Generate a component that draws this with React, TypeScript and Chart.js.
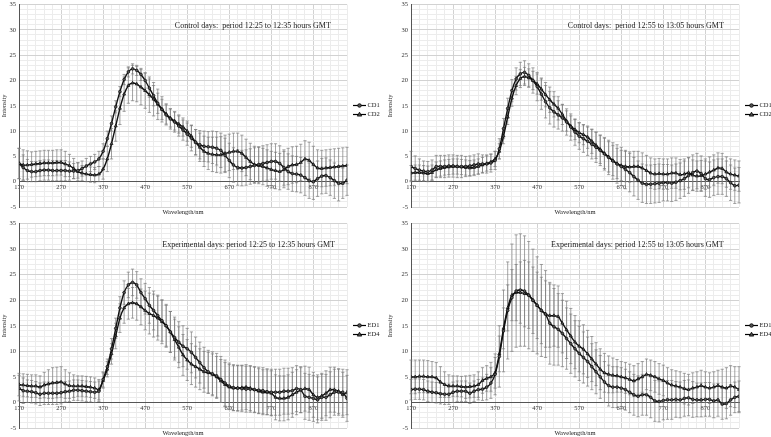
import React, { useEffect, useRef } from 'react';
import { Chart, registerables } from 'chart.js';

Chart.register(...registerables);

const FONT = '"Liberation Serif", "Times New Roman", serif';

// Wavelength categories (nm)
const WAVELENGTHS = [
  170, 180, 190, 200, 210, 220, 230, 240, 250, 260,
  270, 280, 290, 300, 310, 320, 330, 340, 350, 360,
  370, 380, 390, 400, 410, 420, 430, 440, 450, 460,
  470, 480, 490, 500, 510, 520, 530, 540, 550, 560,
  570, 580, 590, 600, 610, 620, 630, 640, 650, 660,
  670, 680, 690, 700, 710, 720, 730, 740, 750, 760,
  770, 780, 790, 800, 810, 820, 830, 840, 850, 860,
  870, 880, 890, 900, 910, 920, 930, 940, 950,
];
const X_TICK_LABELS = [170, 270, 370, 470, 570, 670, 770, 870];
const Y_TICK_LABELS = [-5, 0, 5, 10, 15, 20, 25, 30, 35];

// Panel 1: Control days 12:25-12:35
const P1_CD1 = [
  3.6, 2.8, 2.2, 2.0, 2.0, 2.2, 2.3, 2.3, 2.2, 2.2,
  2.2, 2.2, 2.1, 2.1, 2.2, 2.6, 3.1, 3.5, 3.9, 4.5,
  6.0, 8.5, 11.5, 14.8, 17.8, 20.2, 21.7, 22.3, 22.0, 21.2,
  20.0, 18.5, 17.0, 15.5, 14.3, 13.2, 12.4, 11.8, 11.0, 10.2,
  9.4, 8.6, 7.8, 7.3, 7.0, 6.9, 6.8, 6.6, 6.2, 5.2,
  4.2, 3.3, 2.8, 2.7, 2.8, 3.0, 3.2, 3.4, 3.6, 3.8,
  4.0, 4.0, 3.6, 2.8, 2.0, 1.6, 1.5, 1.3, 0.8, 0.2,
  0.0, 0.6, 1.1, 1.2, 0.8, 0.2, -0.3, -0.3, 0.3,
];
const P1_CD1_ERR = [
  3.0, 2.5, 2.2, 2.0, 2.0, 2.0, 2.0, 2.0, 2.0, 2.0,
  2.0, 2.0, 1.8, 1.5, 1.5, 1.5, 1.5, 1.5, 1.5, 1.5,
  1.5, 1.5, 1.5, 1.2, 1.0, 1.0, 1.0, 1.0, 1.0, 1.2,
  1.5, 1.8, 2.0, 2.0, 2.0, 2.0, 2.0, 2.0, 2.0, 2.0,
  2.2, 2.5, 2.5, 2.8, 3.0, 3.0, 3.2, 3.3, 3.4, 3.4,
  3.4, 3.4, 3.5, 3.5, 3.5, 3.5, 3.5, 3.5, 3.5, 3.5,
  3.5, 3.5, 3.5, 3.5, 3.5, 3.5, 3.5, 3.5, 3.5, 3.5,
  3.5, 3.5, 3.5, 3.5, 3.5, 3.5, 3.5, 3.0, 3.0,
];
const P1_CD2 = [
  3.6, 3.3, 3.3, 3.4, 3.5, 3.6, 3.7, 3.7, 3.7, 3.8,
  3.8, 3.5, 3.2, 2.6, 2.0, 1.7, 1.5, 1.4, 1.3, 1.5,
  2.5, 4.5, 7.5, 11.0, 14.5, 17.3, 19.0, 19.5, 19.3, 18.7,
  18.0, 17.2, 16.3, 15.3, 14.3, 13.4, 12.6, 12.0, 11.4, 10.8,
  10.0, 9.0, 7.8, 6.8, 6.0, 5.6, 5.4, 5.3, 5.3, 5.6,
  5.8, 6.0, 6.0, 5.6, 4.8, 4.0, 3.4, 3.2, 3.0, 2.7,
  2.4, 2.2, 2.0, 2.4, 3.0, 3.3, 3.4, 3.8, 4.5, 4.2,
  3.4, 2.7, 2.6, 2.7, 2.8, 2.9, 3.0, 3.1, 3.2,
];
const P1_CD2_ERR = [
  3.0, 3.0, 2.8, 2.5, 2.5, 2.5, 2.5, 2.5, 2.5, 2.5,
  2.5, 2.5, 2.2, 2.0, 1.8, 1.5, 1.5, 1.5, 1.5, 1.5,
  2.0, 2.5, 3.0, 3.0, 3.2, 3.4, 3.5, 3.5, 3.5, 3.5,
  3.5, 3.5, 3.3, 3.0, 2.5, 2.0, 1.8, 1.8, 1.8, 1.8,
  2.0, 2.2, 2.5, 2.8, 3.0, 3.2, 3.4, 3.5, 3.6, 3.6,
  3.6, 3.6, 3.6, 3.6, 3.6, 3.6, 3.6, 3.6, 3.6, 3.6,
  3.6, 3.6, 3.6, 3.6, 3.6, 3.6, 3.6, 3.6, 3.6, 3.6,
  3.6, 3.6, 3.6, 3.6, 3.6, 3.6, 3.6, 3.6, 3.6,
];

// Panel 2: Control days 12:55-13:05
const P2_CD1 = [
  3.0, 2.6, 2.3, 2.1, 2.0, 2.3, 3.0, 3.0, 3.0, 3.1,
  3.1, 3.0, 3.0, 3.0, 3.1, 3.3, 3.5, 3.5, 3.5, 3.7,
  4.2, 6.5, 10.5, 14.5, 18.0, 20.3, 21.3, 21.6, 21.0, 20.0,
  18.8, 17.3, 15.8, 14.6, 13.8, 13.2, 12.6, 11.8, 10.8, 9.8,
  9.0, 8.5, 8.0, 7.4, 6.8, 6.2, 5.5, 4.8, 4.1, 3.5,
  3.0, 2.4, 1.8, 1.0, 0.3, -0.3, -0.5, -0.5, -0.4, -0.3,
  -0.2, -0.2, -0.3, -0.1, 0.2, 0.6, 1.2, 1.8, 2.1, 1.6,
  0.6, 0.4, 0.8, 1.0, 1.0, 0.6, -0.2, -0.8, -0.7,
];
const P2_CD1_ERR = [
  3.0, 2.5, 2.2, 2.0, 2.0, 2.0, 2.2, 2.2, 2.2, 2.2,
  2.2, 2.2, 2.2, 2.0, 2.0, 2.0, 2.0, 1.8, 1.8, 1.8,
  1.8, 2.0, 2.0, 2.0, 2.2, 2.2, 2.3, 2.3, 2.3, 2.5,
  2.8, 3.0, 3.2, 3.2, 3.0, 2.8, 2.6, 2.6, 2.6, 2.6,
  2.6, 2.7, 2.8, 2.9, 3.0, 3.0, 3.2, 3.4, 3.6, 3.8,
  3.8, 3.8, 3.8, 3.8, 3.8, 3.8, 3.8, 3.8, 3.8, 3.8,
  3.6, 3.6, 3.6, 3.6, 3.5, 3.5, 3.5, 3.5, 3.5, 3.5,
  3.5, 3.5, 3.5, 3.5, 3.5, 3.5, 3.5, 3.5, 3.5,
];
const P2_CD2 = [
  1.7, 1.8, 1.8, 1.7, 1.6, 1.8, 2.4, 2.6, 2.8, 2.9,
  3.0, 3.0, 2.9, 2.8, 2.7, 2.8, 3.0, 3.3, 3.6, 3.9,
  4.5, 6.0, 9.0, 12.8, 16.5, 19.0, 20.4, 20.8, 20.5, 20.0,
  19.3, 18.3, 17.2, 16.2, 15.3, 14.5, 13.3, 12.0, 11.0, 10.3,
  9.7, 9.3, 8.8, 8.0, 7.2, 6.4, 5.6, 4.9, 4.2, 3.6,
  3.2, 3.0, 2.9, 3.0, 3.0, 2.7, 2.2, 1.7, 1.5, 1.6,
  1.5, 1.5, 1.7, 1.7, 1.4, 1.5, 1.8, 1.3, 1.1, 1.2,
  1.5, 1.9, 2.3, 2.7, 2.6, 1.9, 1.5, 1.3, 1.1,
];
const P2_CD2_ERR = [
  1.5, 1.5, 1.5, 1.5, 1.5, 1.5, 1.5, 1.5, 1.5, 1.5,
  1.5, 1.5, 1.5, 1.5, 1.5, 1.5, 1.5, 1.5, 1.5, 1.5,
  1.5, 1.5, 1.5, 1.5, 1.6, 1.8, 1.8, 1.8, 1.8, 1.8,
  2.0, 2.2, 2.4, 2.5, 2.5, 2.3, 2.0, 2.0, 2.0, 2.0,
  2.0, 2.0, 2.2, 2.4, 2.6, 2.8, 3.0, 3.0, 3.0, 3.0,
  3.0, 3.0, 3.0, 3.0, 3.0, 3.0, 3.0, 3.0, 3.0, 3.0,
  3.0, 3.0, 3.0, 3.0, 3.0, 3.0, 3.0, 3.0, 3.0, 3.0,
  3.0, 3.0, 3.0, 3.0, 3.0, 3.0, 3.0, 3.0, 3.0,
];

// Panel 3: Experimental days 12:25-12:35
const P3_ED1 = [
  2.8, 2.3, 2.2, 2.1, 1.9, 1.6, 1.8, 1.8, 1.8, 1.8,
  1.9, 2.1, 2.2, 2.4, 2.4, 2.3, 2.2, 2.1, 2.0, 2.2,
  4.5, 7.0, 10.5, 14.5, 18.5, 21.5, 23.0, 23.5, 23.0, 21.5,
  20.3, 19.0, 18.0, 17.0, 16.0, 15.0, 13.8, 12.7, 11.8, 11.0,
  10.5, 9.8, 8.8, 7.8, 6.8, 6.0, 5.6, 5.2, 4.5, 3.8,
  3.2, 2.9, 2.8, 2.7, 2.6, 2.6, 2.5, 2.4, 2.3, 2.1,
  2.0, 2.0, 2.0, 2.2, 2.2, 2.3, 2.7, 2.5, 1.2, 1.0,
  0.8, 0.5, 1.0, 1.0, 1.5, 2.0, 2.0, 2.0, 0.8,
];
const P3_ED1_ERR = [
  2.5, 2.5, 2.2, 2.2, 2.2, 2.2, 2.2, 2.2, 2.2, 2.2,
  2.2, 2.0, 2.0, 2.0, 2.0, 2.0, 2.0, 2.0, 2.0, 2.0,
  1.5, 1.5, 2.0, 2.0, 2.2, 2.3, 2.5, 2.6, 2.6, 2.7,
  3.0, 3.5, 3.8, 4.0, 4.0, 4.0, 4.0, 4.0, 4.0, 4.0,
  4.0, 4.0, 4.0, 4.0, 4.0, 4.2, 4.3, 4.4, 4.5, 4.5,
  4.5, 4.5, 4.5, 4.5, 4.5, 4.5, 4.5, 4.5, 4.5, 4.5,
  4.5, 4.5, 4.5, 4.5, 4.5, 4.5, 4.5, 4.5, 4.5, 4.5,
  4.5, 4.5, 4.5, 4.5, 4.5, 4.5, 4.5, 4.5, 4.5,
];
const P3_ED4 = [
  3.5, 3.4, 3.3, 3.2, 3.2, 3.0, 3.4, 3.6, 3.8, 3.9,
  4.0, 3.6, 3.3, 3.2, 3.2, 3.2, 3.1, 3.0, 2.8, 2.5,
  4.3, 6.5, 9.5, 13.0, 16.5, 18.5, 19.3, 19.5, 19.3, 18.7,
  18.0, 17.4, 17.0, 16.5, 15.8, 15.0, 13.8, 12.3, 10.8, 9.3,
  8.3, 7.5, 7.0, 6.5, 6.0, 5.8, 5.5, 5.0, 4.2, 3.5,
  3.0, 2.8, 2.8, 2.9, 3.0, 2.8, 2.5, 2.2, 2.0, 2.0,
  1.8, 1.0, 0.8, 0.8, 1.0, 1.5, 2.0, 2.4, 2.7, 2.5,
  1.5, 1.0, 1.3, 1.8, 2.5, 2.5, 2.2, 1.5, 2.0,
];
const P3_ED4_ERR = [
  2.2, 2.2, 2.2, 2.2, 2.2, 2.2, 2.5, 2.8, 3.0, 3.0,
  3.0, 2.8, 2.5, 2.2, 2.0, 2.0, 2.0, 2.0, 2.0, 2.0,
  1.5, 1.5, 2.0, 2.5, 2.8, 3.0, 3.0, 3.0, 3.2, 3.5,
  3.8, 4.0, 4.2, 4.3, 4.3, 4.2, 4.0, 4.0, 4.0, 4.0,
  4.0, 4.0, 4.0, 4.0, 4.0, 4.0, 4.0, 4.0, 4.2, 4.3,
  4.4, 4.4, 4.4, 4.4, 4.4, 4.4, 4.4, 4.4, 4.4, 4.4,
  4.4, 4.4, 4.4, 4.4, 4.4, 4.4, 4.4, 4.4, 4.4, 4.4,
  4.4, 4.4, 4.4, 4.4, 4.4, 4.4, 4.4, 4.4, 4.4,
];

// Panel 4: Experimental days 12:55-13:05
const P4_ED1 = [
  2.5, 2.6, 2.6, 2.5, 2.2, 2.0, 1.9, 1.7, 1.6, 1.6,
  2.0, 2.2, 2.2, 2.2, 1.8, 2.2, 2.5, 2.6, 3.0, 3.8,
  5.5, 9.0, 14.0, 18.0, 20.5, 21.8, 22.0, 21.8, 21.0, 20.0,
  19.0, 18.0, 17.3, 15.5, 14.8, 14.3, 13.5, 12.5, 11.5, 10.5,
  9.6, 8.8, 8.0, 7.0, 6.0, 5.0, 4.0, 3.3, 3.0, 3.0,
  2.8, 2.5, 2.0, 1.5, 1.2, 1.5, 1.5, 1.0, 0.3, 0.2,
  0.4, 0.5, 0.5, 0.6, 0.5, 0.8, 0.9, 0.6, 0.5, 0.5,
  0.6, 0.6, 0.3, 0.5, -0.3, -0.2, 0.5, 1.0, 1.2,
];
const P4_ED1_ERR = [
  2.0, 2.0, 2.0, 2.0, 2.0, 2.0, 2.0, 2.0, 2.0, 2.0,
  2.0, 2.0, 2.0, 2.0, 2.0, 2.0, 2.0, 2.2, 2.5, 3.0,
  4.0, 6.0, 8.0, 9.5, 10.5, 11.0, 11.0, 10.8, 10.5, 10.0,
  9.5, 9.0, 8.5, 8.0, 7.5, 7.0, 6.5, 6.0, 5.8, 5.5,
  5.3, 5.0, 4.8, 4.5, 4.3, 4.2, 4.0, 4.0, 4.0, 4.0,
  4.0, 4.0, 4.0, 4.0, 4.0, 4.0, 4.0, 4.0, 4.0, 4.0,
  3.8, 3.8, 3.8, 3.5, 3.5, 3.5, 3.5, 3.5, 3.3, 3.3,
  3.3, 3.3, 3.3, 3.2, 3.0, 3.0, 3.0, 3.0, 3.0,
];
const P4_ED4 = [
  5.0, 5.0, 5.1, 5.1, 5.0, 5.0, 4.8, 4.0, 3.5, 3.2,
  3.2, 3.2, 3.1, 3.0, 3.1, 3.2, 3.5, 4.3, 4.7, 5.0,
  5.8, 9.5, 14.5, 18.5, 21.0, 21.5, 21.5, 21.3, 21.0, 20.0,
  19.0, 18.0, 17.3, 17.0, 17.0, 16.8, 15.5, 14.2, 13.0, 11.8,
  11.0, 10.4, 9.5, 8.5, 7.5, 6.5, 5.8, 5.5, 5.3, 5.2,
  5.0, 4.8, 4.5, 4.2, 4.6, 5.0, 5.5, 5.3, 5.0, 4.6,
  4.3, 3.8, 3.4, 3.2, 3.0, 2.7, 2.5, 2.8, 3.0, 3.3,
  3.0, 2.8, 3.0, 3.3, 3.0, 2.8, 3.2, 3.0, 2.5,
];
const P4_ED4_ERR = [
  3.3, 3.3, 3.2, 3.2, 3.2, 3.0, 3.0, 3.0, 2.5, 2.2,
  2.0, 2.0, 2.0, 2.2, 2.2, 2.2, 2.5, 2.5, 2.5, 2.8,
  3.0, 3.5, 4.0, 4.5, 5.0, 5.5, 6.0, 6.5, 6.5, 6.5,
  6.5, 6.5, 6.5, 6.2, 6.0, 6.0, 5.8, 5.6, 5.4, 5.2,
  5.0, 4.8, 4.6, 4.4, 4.2, 4.0, 3.8, 3.6, 3.4, 3.2,
  3.0, 3.0, 3.0, 3.0, 3.0, 3.0, 3.0, 3.0, 3.0, 3.0,
  3.0, 3.0, 3.0, 3.0, 3.0, 3.0, 3.0, 3.0, 3.0, 3.0,
  3.0, 3.0, 3.0, 3.0, 3.5, 4.0, 4.0, 4.0, 4.5,
];

const X_MIN = 170;
const X_MAX = 950;
const Y_MIN = -5;
const Y_MAX = 35;

type SeriesDef = { label: string; values: number[]; errors: number[]; marker: 'circle' | 'triangle' };
type PanelDef = {
  title: string;
  titleFrac: number;
  series: SeriesDef[];
  left: number; top: number; w: number; h: number;
  pad: { left: number; top: number; right: number; bottom: number };
  yWidth: number;
};

const PANELS: PanelDef[] = [
  {
    title: 'Control days:  period 12:25 to 12:35 hours GMT', titleFrac: 0.713,
    series: [
      { label: 'CD1', values: P1_CD1, errors: P1_CD1_ERR, marker: 'circle' },
      { label: 'CD2', values: P1_CD2, errors: P1_CD2_ERR, marker: 'triangle' },
    ],
    left: 0, top: 0, w: 388, h: 219,
    pad: { left: 0, top: 2, right: 41, bottom: 12 }, yWidth: 19,
  },
  {
    title: 'Control days:  period 12:55 to 13:05 hours GMT', titleFrac: 0.716,
    series: [
      { label: 'CD1', values: P2_CD1, errors: P2_CD1_ERR, marker: 'circle' },
      { label: 'CD2', values: P2_CD2, errors: P2_CD2_ERR, marker: 'triangle' },
    ],
    left: 386, top: 0, w: 385, h: 219,
    pad: { left: 0, top: 2, right: 32, bottom: 12 }, yWidth: 25,
  },
  {
    title: 'Experimental days: period 12:25 to 12:35 hours GMT', titleFrac: 0.70,
    series: [
      { label: 'ED1', values: P3_ED1, errors: P3_ED1_ERR, marker: 'circle' },
      { label: 'ED4', values: P3_ED4, errors: P3_ED4_ERR, marker: 'triangle' },
    ],
    left: 0, top: 219, w: 388, h: 218,
    pad: { left: 0, top: 3, right: 41, bottom: 9 }, yWidth: 19,
  },
  {
    title: 'Experimental days: period 12:55 to 13:05 hours GMT', titleFrac: 0.69,
    series: [
      { label: 'ED1', values: P4_ED1, errors: P4_ED1_ERR, marker: 'circle' },
      { label: 'ED4', values: P4_ED4, errors: P4_ED4_ERR, marker: 'triangle' },
    ],
    left: 386, top: 219, w: 385, h: 218,
    pad: { left: 0, top: 3, right: 32, bottom: 9 }, yWidth: 25,
  },
];

function drawMarker(ctx: CanvasRenderingContext2D, kind: string, x: number, y: number) {
  ctx.beginPath();
  if (kind === 'circle') {
    ctx.arc(x, y, 1.8, 0, Math.PI * 2);
  } else {
    ctx.moveTo(x, y - 2.3);
    ctx.lineTo(x + 2.2, y + 1.6);
    ctx.lineTo(x - 2.2, y + 1.6);
    ctx.closePath();
  }
  ctx.fillStyle = '#555';
  ctx.fill();
  ctx.lineWidth = 0.8;
  ctx.strokeStyle = '#000';
  ctx.stroke();
}

const errorBarPlugin = {
  id: 'errorBars',
  beforeDatasetsDraw(chart: any) {
    const { ctx, scales } = chart;
    const xs = scales.x;
    const ys = scales.y;
    ctx.save();
    ctx.strokeStyle = 'rgba(120,120,120,0.85)';
    ctx.lineWidth = 0.8;
    chart.data.datasets.forEach((ds: any) => {
      ds.data.forEach((p: any, i: number) => {
        const e = ds.errors[i];
        const px = xs.getPixelForValue(p.x);
        const t = ys.getPixelForValue(p.y + e);
        const b = ys.getPixelForValue(p.y - e);
        ctx.beginPath();
        ctx.moveTo(px, t);
        ctx.lineTo(px, b);
        ctx.moveTo(px - 1.6, t);
        ctx.lineTo(px + 1.6, t);
        ctx.moveTo(px - 1.6, b);
        ctx.lineTo(px + 1.6, b);
        ctx.stroke();
      });
    });
    ctx.restore();
  },
};

const panelTextPlugin = {
  id: 'panelText',
  afterDraw(chart: any, _args: any, opts: any) {
    const { ctx, chartArea: a } = chart;
    ctx.save();
    ctx.fillStyle = '#1a1a1a';
    ctx.textAlign = 'center';
    ctx.textBaseline = 'middle';
    ctx.font = `8px ${FONT}`;
    ctx.fillText(opts.title, a.left + opts.titleFrac * (a.right - a.left), a.top + 21);
    ctx.font = `6.5px ${FONT}`;
    ctx.fillText('Wavelength/nm', (a.left + a.right) / 2, a.bottom + 5);
    const cy = (a.top + a.bottom) / 2;
    chart.data.datasets.forEach((ds: any, i: number) => {
      const y = Math.round(cy - 1 + i * 9) + 0.5;
      const x0 = a.right + 6;
      ctx.strokeStyle = '#000';
      ctx.lineWidth = 1.2;
      ctx.beginPath();
      ctx.moveTo(x0, y);
      ctx.lineTo(x0 + 13, y);
      ctx.stroke();
      drawMarker(ctx, ds.marker, x0 + 6.5, y);
      ctx.fillStyle = '#1a1a1a';
      ctx.textAlign = 'left';
      ctx.font = `6.5px ${FONT}`;
      ctx.fillText(ds.label, x0 + 14.5, y);
    });
    ctx.restore();
  },
};

function Panel({ def }: { def: PanelDef }) {
  const ref = useRef<HTMLCanvasElement>(null);
  useEffect(() => {
    const gridX: number[] = [];
    for (let v = X_MIN; v <= X_MAX; v += 20) gridX.push(v);
    const chart = new Chart(ref.current as HTMLCanvasElement, {
      type: 'line',
      data: {
        datasets: def.series.map((s) => ({
          label: s.label,
          data: WAVELENGTHS.map((x, i) => ({ x, y: s.values[i] })),
          errors: s.errors,
          marker: s.marker,
          borderColor: '#111',
          borderWidth: 1.4,
          tension: 0.2,
          pointStyle: s.marker,
          pointRadius: s.marker === 'circle' ? 1.4 : 1.8,
          pointBackgroundColor: '#555',
          pointBorderColor: '#000',
          pointBorderWidth: 0.6,
          fill: false,
        })) as any,
      },
      options: {
        responsive: false,
        animation: false,
        devicePixelRatio: 1,
        layout: { padding: def.pad },
        plugins: {
          legend: { display: false },
          tooltip: { enabled: false },
          panelText: { title: def.title, titleFrac: def.titleFrac },
        } as any,
        scales: {
          x: {
            type: 'linear',
            min: X_MIN,
            max: X_MAX,
            position: { y: 0 } as any,
            afterBuildTicks: (s: any) => {
              s.ticks = gridX.map((v) => ({ value: v }));
            },
            afterFit: (s: any) => {
              s.height = 0;
              s.paddingLeft = 0;
              s.paddingRight = 0;
            },
            ticks: {
              autoSkip: false,
              maxRotation: 0,
              padding: 2,
              color: '#333',
              font: { family: FONT, size: 6.5 },
              callback: (v: any) => (X_TICK_LABELS.includes(Number(v)) ? String(v) : ''),
            },
            grid: {
              drawTicks: false,
              lineWidth: 1,
              color: (c: any) => ((c.tick.value - X_MIN) % 100 === 0 ? '#d2d2d2' : '#ececec'),
            },
            border: { display: true, color: '#555', width: 1 },
          },
          y: {
            type: 'linear',
            min: Y_MIN,
            max: Y_MAX,
            position: 'left',
            afterFit: (s: any) => {
              s.width = def.yWidth;
              s.paddingTop = 0;
              s.paddingBottom = 0;
            },
            ticks: {
              stepSize: 1,
              autoSkip: false,
              padding: 3,
              color: '#333',
              font: { family: FONT, size: 6.5 },
              callback: (v: any) => (Y_TICK_LABELS.includes(Number(v)) ? String(v) : ''),
            },
            grid: {
              drawTicks: false,
              lineWidth: 1,
              color: (c: any) => (c.tick.value % 5 === 0 ? '#d2d2d2' : '#ececec'),
            },
            border: { display: true, color: '#555', width: 1 },
            title: {
              display: true,
              text: 'Intensity',
              color: '#333',
              padding: 0,
              font: { family: FONT, size: 6.5 },
            },
          },
        },
      } as any,
      plugins: [errorBarPlugin, panelTextPlugin],
    });
    return () => chart.destroy();
  }, []);
  return (
    <canvas
      ref={ref}
      width={def.w}
      height={def.h}
      style={{ position: 'absolute', left: def.left, top: def.top, width: def.w, height: def.h }}
    />
  );
}

export default function App() {
  return (
    <div style={{ position: 'absolute', left: 0, top: 0, width: 771, height: 437, background: '#fff', overflow: 'hidden' }}>
      {PANELS.map((p, i) => (
        <Panel key={i} def={p} />
      ))}
    </div>
  );
}
